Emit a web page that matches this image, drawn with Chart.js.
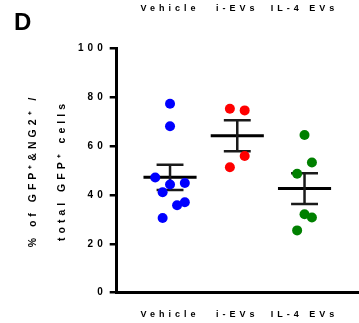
<!DOCTYPE html>
<html>
<head>
<meta charset="utf-8">
<script src="https://cdn.jsdelivr.net/npm/chart.js@4"></script>
<style>
html,body{margin:0;padding:0;background:#fff;}
canvas{display:block;}
</style>
</head>
<body>
<canvas id="c" width="359" height="323"></canvas>
<script>
// ---- data ----
const categories = ['Vehicle', 'i-EVs', 'IL-4 EVs'];
const vehicleValues = [77.3, 68.1, 47.1, 44.3, 44.9, 41.1, 37.0, 35.8, 30.6];
const vehicleJitter = [0, 0, -0.22, 0, 0.22, -0.11, 0.22, 0.105, -0.11];
const iEVsValues = [75.3, 74.6, 55.9, 51.3];
const iEVsJitter = [-0.11, 0.11, 0.11, -0.11];
const il4Values = [64.5, 53.3, 48.7, 32.1, 30.8, 25.5];
const il4Jitter = [0, 0.11, -0.11, 0, 0.11, -0.11];
const groupMeans = [47.2, 64.2, 42.6];
const groupSEM = [5.2, 6.35, 6.3];
const yTicks = [0, 20, 40, 60, 80, 100];

const colors = ['#0000FF', '#FF0000', '#008000'];
const FONT = "'Liberation Sans', Arial, sans-serif";
const MEAN_HW = 0.395, CAP_HW = 0.2;

const groups = [
  [vehicleValues, vehicleJitter],
  [iEVsValues, iEVsJitter],
  [il4Values, il4Jitter]
];

const pointSets = groups.map(([vals, jit], i) => ({
  type: 'scatter',
  label: categories[i],
  data: vals.map((v, j) => ({x: i + 1 + jit[j], y: v})),
  pointRadius: 5,
  pointHoverRadius: 5,
  pointBackgroundColor: colors[i],
  pointBorderWidth: 0,
  showLine: false,
  order: 0
}));

const meanData = [];
const errData = [];
categories.forEach((c, i) => {
  const x = i + 1, m = groupMeans[i], s = groupSEM[i];
  meanData.push({x: x - MEAN_HW, y: m}, {x: x + MEAN_HW, y: m}, {x: x + 0.5, y: null});
  errData.push({x: x, y: m - s}, {x: x, y: m + s}, {x: x, y: null});
  errData.push({x: x - CAP_HW, y: m + s}, {x: x + CAP_HW, y: m + s}, {x: x, y: null});
  errData.push({x: x - CAP_HW, y: m - s}, {x: x + CAP_HW, y: m - s}, {x: x, y: null});
});

const lineSets = [
  {label: 'mean', data: meanData, showLine: true, spanGaps: false, borderColor: '#000', borderWidth: 3, pointRadius: 0, order: 2},
  {label: 'sem', data: errData, showLine: true, spanGaps: false, borderColor: '#1a1a1a', borderWidth: 2.5, pointRadius: 0, order: 1}
];

const spacingPlugin = {
  id: 'spacing',
  beforeLayout(chart) { chart.ctx.letterSpacing = '4px'; },
  beforeDraw(chart) { chart.ctx.letterSpacing = '4px'; },
  afterDraw(chart) {
    const ctx = chart.ctx;
    ctx.save();
    ctx.letterSpacing = '0px';
    ctx.font = 'bold 24px ' + FONT;
    ctx.fillStyle = '#000';
    ctx.textBaseline = 'alphabetic';
    ctx.textAlign = 'left';
    ctx.fillText('D', 14, 30);
    ctx.restore();
  }
};

const catTicks = (scale) => { scale.ticks = categories.map((c, i) => ({value: i + 1})); };
const fixBox = (h) => (scale) => {
  scale.height = h;
  scale.paddingLeft = 0; scale.paddingRight = 0; scale.paddingTop = 0; scale.paddingBottom = 0;
};

new Chart(document.getElementById('c'), {
  type: 'scatter',
  data: {datasets: [...pointSets, ...lineSets]},
  plugins: [spacingPlugin],
  options: {
    responsive: false,
    animation: false,
    events: [],
    layout: {autoPadding: false, padding: {top: 3, right: 0, bottom: 3.5, left: 0}},
    plugins: {legend: {display: false}, tooltip: {enabled: false}},
    scales: {
      x: {
        type: 'linear', position: 'bottom', min: 0.207, max: 3.81,
        afterBuildTicks: catTicks,
        afterFit: fixBox(26.8),
        ticks: {
          callback: (v) => categories[Math.round(v) - 1] || '',
          font: {family: FONT, size: 9, weight: 'bold'}, color: '#000', padding: 16, maxRotation: 0, autoSkip: false
        },
        grid: {display: false, drawTicks: false},
        border: {display: true, color: '#000', width: 3}
      },
      x2: {
        type: 'linear', position: 'top', min: 0.207, max: 3.81,
        afterBuildTicks: catTicks,
        afterFit: fixBox(45.3),
        ticks: {
          callback: (v) => categories[Math.round(v) - 1] || '',
          font: {family: FONT, size: 9, weight: 'bold'}, color: '#000', padding: 34, maxRotation: 0, autoSkip: false
        },
        grid: {display: false, drawTicks: false},
        border: {display: false}
      },
      y: {
        type: 'linear', position: 'left', min: 0, max: 100,
        afterBuildTicks: (scale) => { scale.ticks = yTicks.map(v => ({value: v})); },
        afterFit: (scale) => {
          scale.width = 116.7;
          scale.paddingTop = 0; scale.paddingBottom = 0; scale.paddingLeft = 0; scale.paddingRight = 0;
        },
        ticks: {font: {family: FONT, size: 10, weight: 'bold'}, color: '#000', padding: 3},
        grid: {display: true, drawOnChartArea: false, drawTicks: true, tickLength: 7, lineWidth: 2.5, color: '#000'},
        border: {display: true, color: '#000', width: 3},
        title: {
          display: true,
          text: ['% of GFP\u207A&NG2\u207A /', 'total GFP\u207A cells'],
          font: {family: FONT, size: 10.5, weight: 'bold', lineHeight: 2.76},
          color: '#000',
          padding: {top: 18.5, bottom: 0}
        }
      }
    }
  }
});
</script>
</body>
</html>
